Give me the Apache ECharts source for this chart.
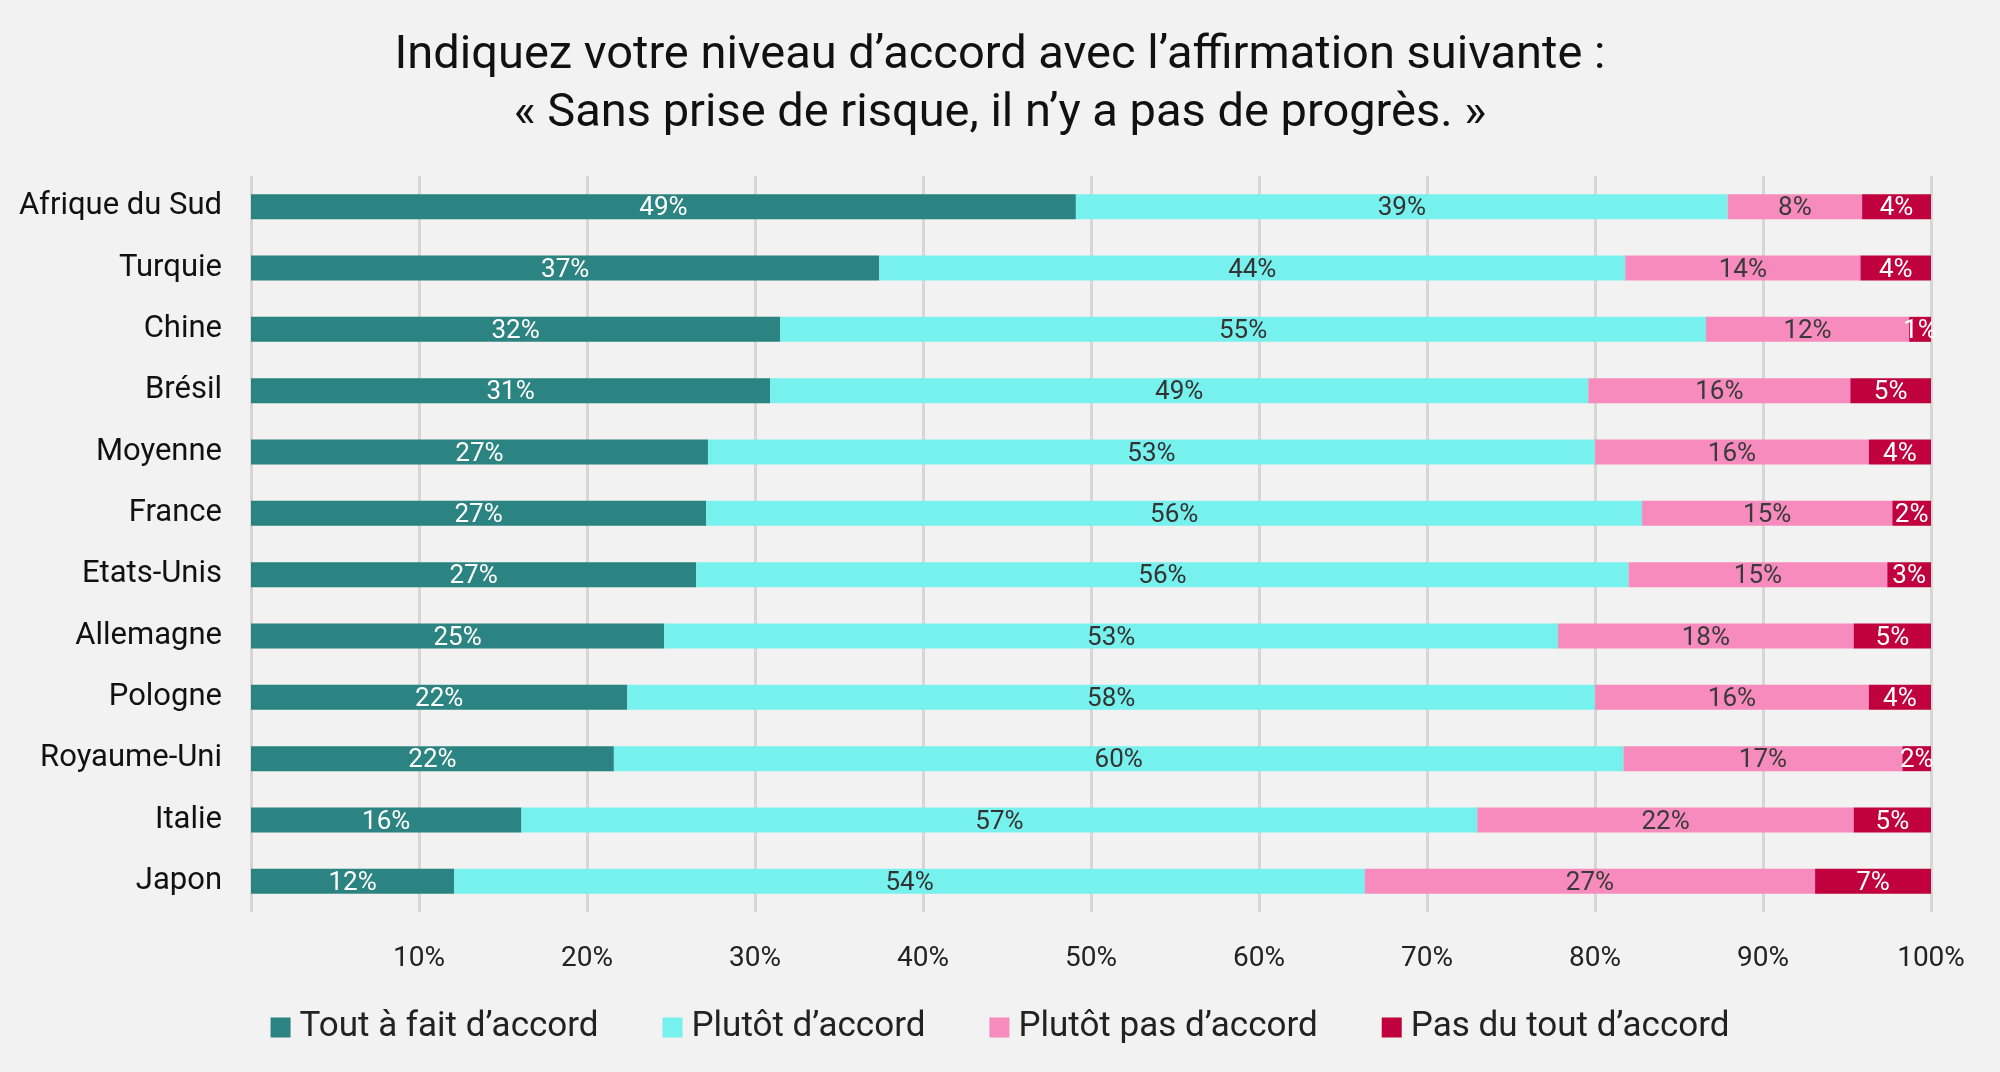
<!DOCTYPE html>
<html><head><meta charset="utf-8">
<script src="https://cdn.jsdelivr.net/npm/echarts@6/dist/echarts.min.js"></script>
<style>html,body{margin:0;padding:0;background:#f2f2f2}#c{width:2000px;height:1072px}</style>
</head><body><div id="c"></div>
<script>
const categories = ['Afrique du Sud','Turquie','Chine','Brésil','Moyenne','France','Etats-Unis','Allemagne','Pologne','Royaume-Uni','Italie','Japon'];
const toutAFait   = [49.1, 37.4, 31.5, 30.9, 27.2, 27.1, 26.5, 24.6, 22.4, 21.6, 16.1, 12.1];
const plutot      = [38.8, 44.4, 55.1, 48.7, 52.8, 55.7, 55.5, 53.2, 57.6, 60.1, 56.9, 54.2];
const plutotPas   = [ 8.0, 14.0, 12.1, 15.6, 16.3, 14.9, 15.4, 17.6, 16.3, 16.6, 22.4, 26.8];
const pasDuTout   = [ 4.1,  4.2,  1.3,  4.8,  3.7,  2.3,  2.6,  4.6,  3.7,  1.7,  4.6,  6.9];
const seriesNames = ['Tout à fait d’accord','Plutôt d’accord','Plutôt pas d’accord','Pas du tout d’accord'];
const colors = ['#2b8481','#77f1ed','#f78bbd','#c1003f'];
const labelColors = ['#ffffff','#333333','#3a3a3a','#ffffff'];
const xTicks = [0,10,20,30,40,50,60,70,80,90,100];

const FONT = 'Roboto, "Noto Sans", sans-serif';
const data = [toutAFait, plutot, plutotPas, pasDuTout];
const chart = echarts.init(document.getElementById('c'));
chart.setOption({
  backgroundColor: '#f2f2f2',
  animation: false,
  title: {
    text: 'Indiquez votre niveau d’accord avec l’affirmation suivante :\n« Sans prise de risque, il n’y a pas de progrès. »',
    left: 'center', top: 22,
    textStyle: {fontFamily: FONT, fontSize: 47, fontWeight: 'normal', color: '#111', lineHeight: 58}
  },
  legend: {
    bottom: 22, left: 'center', itemWidth: 20, itemHeight: 20, itemGap: 64,
    icon: 'rect',
    textStyle: {fontFamily: FONT, fontSize: 35, color: '#222', padding: [0,0,0,4]},
    data: seriesNames
  },
  grid: {left: 251, right: 69, top: 176, bottom: 160, containLabel: false},
  xAxis: {
    type: 'value', min: xTicks[0], max: xTicks[xTicks.length-1], interval: 10,
    axisLine: {show: false}, axisTick: {show: false},
    splitLine: {show: true, lineStyle: {color: '#d6d6d6', width: 3}},
    axisLabel: {
      fontFamily: FONT, fontSize: 28, color: '#222', margin: 33,
      formatter: v => (v === 0 ? '' : v + '%')
    }
  },
  yAxis: {
    type: 'category', data: categories, inverse: true,
    axisLine: {show: false}, axisTick: {show: false},
    axisLabel: {fontFamily: FONT, fontSize: 31, color: '#111', margin: 29, padding: [5,0,0,0]}
  },
  series: data.map((arr, i) => ({
    name: seriesNames[i], type: 'bar', stack: 'total', barWidth: 25,
    data: arr,
    itemStyle: {color: colors[i]},
    label: {
      show: true, position: 'inside', offset: [0, 2], fontFamily: FONT, fontSize: 26,
      color: labelColors[i], formatter: p => Math.round(p.value) + '%'
    }
  }))
});
</script></body></html>
